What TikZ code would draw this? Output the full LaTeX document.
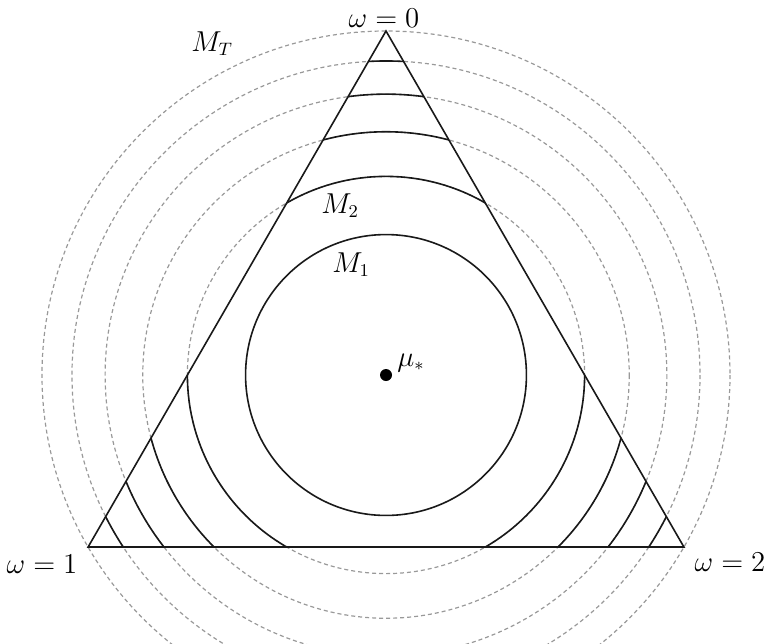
\documentclass[tikz,border=0pt]{standalone}
\begin{document}
\begin{tikzpicture}[x=0.5pt,y=-0.5pt,
  solidline/.style={line width=0.8pt,black!90},
  dashcircle/.style={line width=0.6pt,gray!80,dash pattern=on 2pt off 1.5pt},
  lbl/.style={inner sep=0pt,font=\fontsize{13.5}{16}\selectfont}]
\clip (0,0) rectangle (765,643);
\useasboundingbox (0,0) rectangle (765,643);
\def\R{344}
\coordinate (O) at (386,375);
\path (O) ++(0,-\R) coordinate (A);
\path (O) ++(-297.9,172) coordinate (B);
\path (O) ++(297.9,172) coordinate (C);
% dashed circles
\foreach \k in {2,...,6}{
  \draw[dashcircle] (O) circle ({\R*sqrt(\k/6)});
}
% solid arcs inside triangle
\begin{scope}
  \clip (A) -- (B) -- (C) -- cycle;
  \foreach \k in {2,...,5}{
    \draw[solidline] (O) circle ({\R*sqrt(\k/6)});
  }
\end{scope}
\draw[solidline] (O) circle ({\R*sqrt(1/6)});
\draw[solidline,line join=miter] (A) -- (B) -- (C) -- cycle;
\fill (O) circle (3pt);
\node[lbl,anchor=base] (w0) at (384,27) {$\omega=0$};
\node[lbl,anchor=base] (w1) at (42,573) {$\omega=1$};
\node[lbl,anchor=base] (w2) at (730,571) {$\omega=2$};
\node[lbl,anchor=base west] (mt) at (191,51) {$M_T$};
\node[lbl,anchor=base west] (m2) at (321,213) {$M_2$};
\node[lbl,anchor=base west] (m1) at (332,272) {$M_1$};
\node[lbl,anchor=base west] (mu) at (397,366) {$\mu_*$};
\end{tikzpicture}
\end{document}
